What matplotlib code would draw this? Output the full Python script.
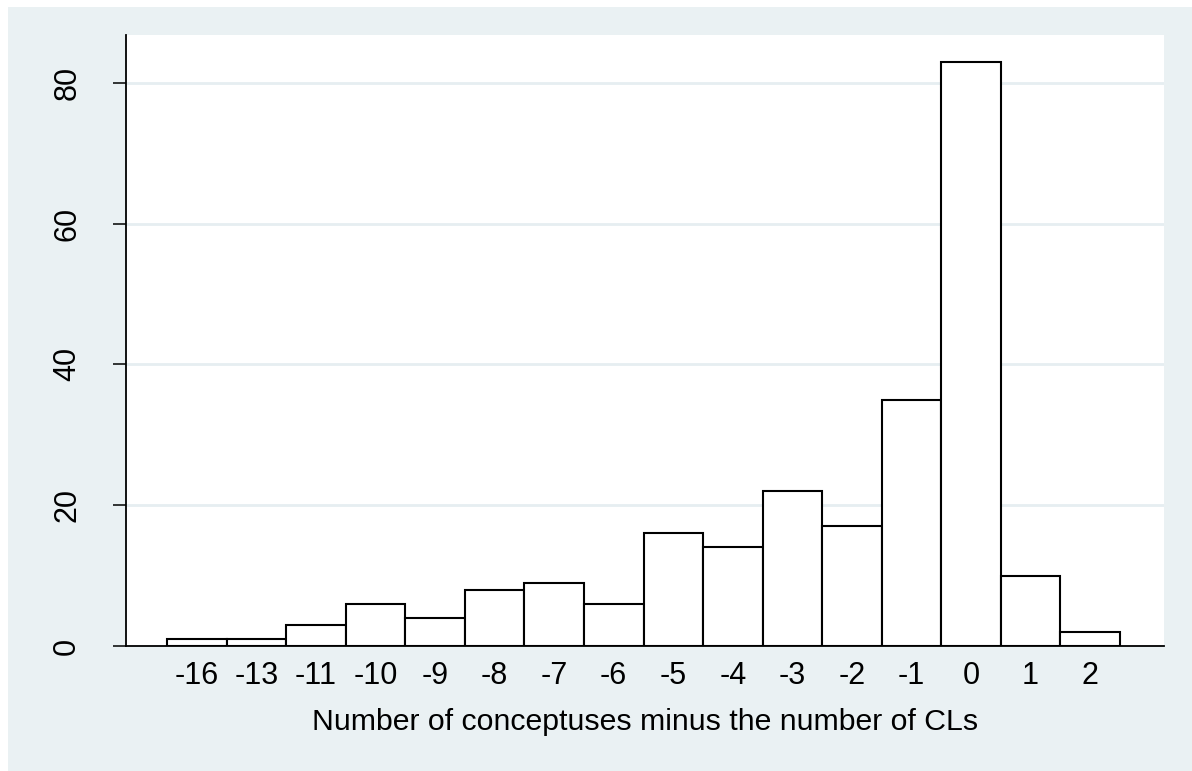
import matplotlib.pyplot as plt
from matplotlib.patches import Rectangle

plt.rcParams['font.family'] = ['Liberation Sans', 'DejaVu Sans']

# difference values (categories) and their counts
labels = ['-16', '-13', '-11', '-10', '-9', '-8', '-7', '-6', '-5', '-4',
          '-3', '-2', '-1', '0', '1', '2']
counts = [1, 1, 3, 6, 4, 8, 9, 6, 16, 14, 22, 17, 35, 83, 10, 2]
yticks = [0, 20, 40, 60, 80]

bg = '#EAF1F3'

fig = plt.figure(figsize=(11.92, 7.71), dpi=100, facecolor='white')
fig.patches.append(Rectangle((8 / 1192, 0), 1 - 8 / 1192, 1 - 7 / 771,
                             transform=fig.transFigure, facecolor=bg,
                             edgecolor='none', zorder=-10))
ax = fig.add_axes([126 / 1192, 1 - 646 / 771, (1164 - 126) / 1192, (646 - 35) / 771])
ax.set_zorder(5)
ax.set_facecolor('white')

pos = list(range(len(labels)))
ax.bar(pos, counts, width=1.0, color='white', edgecolor='black',
       linewidth=1.5, zorder=3)

ax.set_xlim(-1.19, 16.24)
ax.set_ylim(0, 86.8)
ax.set_xticks(pos)
ax.set_xticklabels(labels)
ax.set_yticks(yticks)
ax.set_yticklabels([str(v) for v in yticks], rotation=90, va='center')

ax.grid(axis='y', color='#E6EEF1', linewidth=2, zorder=1)
ax.set_axisbelow(True)

for s in ['top', 'right']:
    ax.spines[s].set_visible(False)
for s in ['left', 'bottom']:
    ax.spines[s].set_linewidth(1.3)
    ax.spines[s].set_color('black')

ax.tick_params(axis='x', length=0, pad=11, labelsize=22)
ax.tick_params(axis='y', length=9.5, width=1.1, pad=22, labelsize=22)

ax.set_xlabel('Number of conceptuses minus the number of CLs', fontsize=21.8,
              labelpad=12)

fig.savefig('out.png', dpi=100, facecolor=fig.get_facecolor())
